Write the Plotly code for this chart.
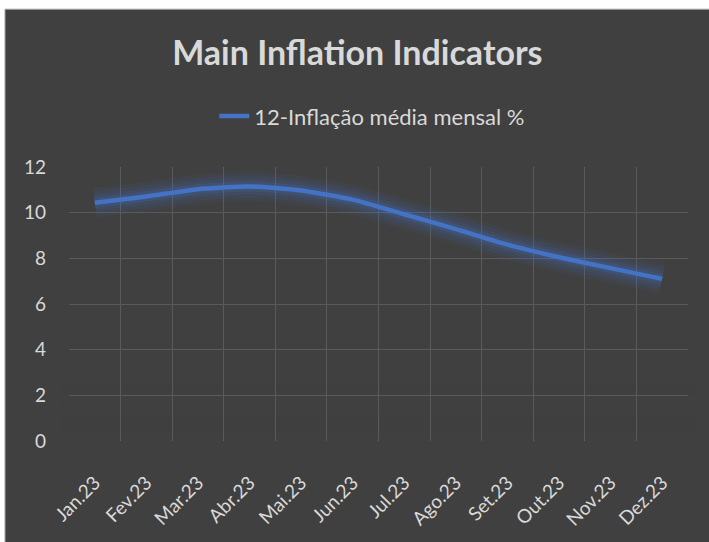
import plotly.graph_objects as go

months = ["Jan.23", "Fev.23", "Mar.23", "Abr.23", "Mai.23", "Jun.23",
          "Jul.23", "Ago.23", "Set.23", "Out.23", "Nov.23", "Dez.23"]
inflation = [10.43, 10.71, 11.03, 11.15, 10.97, 10.57,
             9.93, 9.28, 8.60, 8.05, 7.57, 7.10]
series_name = "12-Inflação média mensal %"
y_ticks = [0, 2, 4, 6, 8, 10, 12]

BG = "#404040"
GRID = "#5A5A5A"
TXT = "#D9D9D9"
BLUE = "#4472C4"
FONT = "Lato, 'Open Sans', sans-serif"

fig = go.Figure()

# glow layers
for w, a in [(30, 0.06), (23, 0.09), (16, 0.13), (10, 0.18)]:
    fig.add_trace(go.Scatter(
        x=months, y=inflation, mode="lines",
        line=dict(color=f"rgba(68,114,196,{a})", width=w,
                  shape="spline", smoothing=0.5),
        showlegend=False, hoverinfo="skip"))

fig.add_trace(go.Scatter(
    x=months, y=inflation, mode="lines", name=series_name,
    line=dict(color=BLUE, width=4.5, shape="spline", smoothing=0.5)))

# background panel + fade of the gridlines near the bottom
shapes = [dict(type="rect", xref="paper", yref="paper",
               x0=-0.1034, x1=1.1, y0=-0.4, y1=1.576,
               fillcolor=BG, line=dict(color="#A6A6A6", width=1),
               layer="below")]
fade = [(2.5, 3.0, 0.15), (2.0, 2.5, 0.3), (1.5, 2.0, 0.5),
        (1.0, 1.5, 0.7), (0.5, 1.0, 0.85), (0.0, 0.5, 1.0)]
for lo, hi, op in fade:
    shapes.append(dict(type="rect", xref="paper", yref="paper",
                       x0=-0.01, x1=1.01,
                       y0=(lo / 12.0) - (0.02 if lo == 0 else 0),
                       y1=hi / 12.0,
                       fillcolor=BG, opacity=op, line=dict(width=0),
                       layer="between"))

fig.update_layout(
    width=709, height=542,
    margin=dict(l=69, r=21, t=167, b=99),
    paper_bgcolor="white",
    plot_bgcolor=BG,
    font=dict(family=FONT, color=TXT, size=18),
    title=dict(text="<b>Main Inflation Indicators</b>",
               x=0.504, xref="container", xanchor="center",
               y=1 - 53 / 542, yref="container", yanchor="middle",
               font=dict(family=FONT, size=34, color=TXT)),
    legend=dict(orientation="h", x=0.49, xanchor="center",
                y=1.185, yanchor="middle",
                font=dict(family=FONT, size=22, color=TXT),
                bgcolor="rgba(0,0,0,0)"),
    shapes=shapes,
    xaxis=dict(type="category", tickson="boundaries", showgrid=True,
               range=[-0.5, 11.5],
               gridcolor=GRID, gridwidth=1, tickangle=-45,
               showline=False, zeroline=False, ticks="",
               ticklabelstandoff=26,
               tickfont=dict(family=FONT, size=19, color=TXT)),
    yaxis=dict(range=[0, 12], tickvals=y_ticks, showgrid=True,
               gridcolor=GRID, gridwidth=1, zeroline=False,
               showline=False, ticks="", ticklabelstandoff=22,
               tickfont=dict(family=FONT, size=19, color=TXT)),
)

fig.write_html("out.html",
               config={"displayModeBar": False},
               post_script="document.body.style.margin='0px';"
                           "document.body.style.padding='0px';")
